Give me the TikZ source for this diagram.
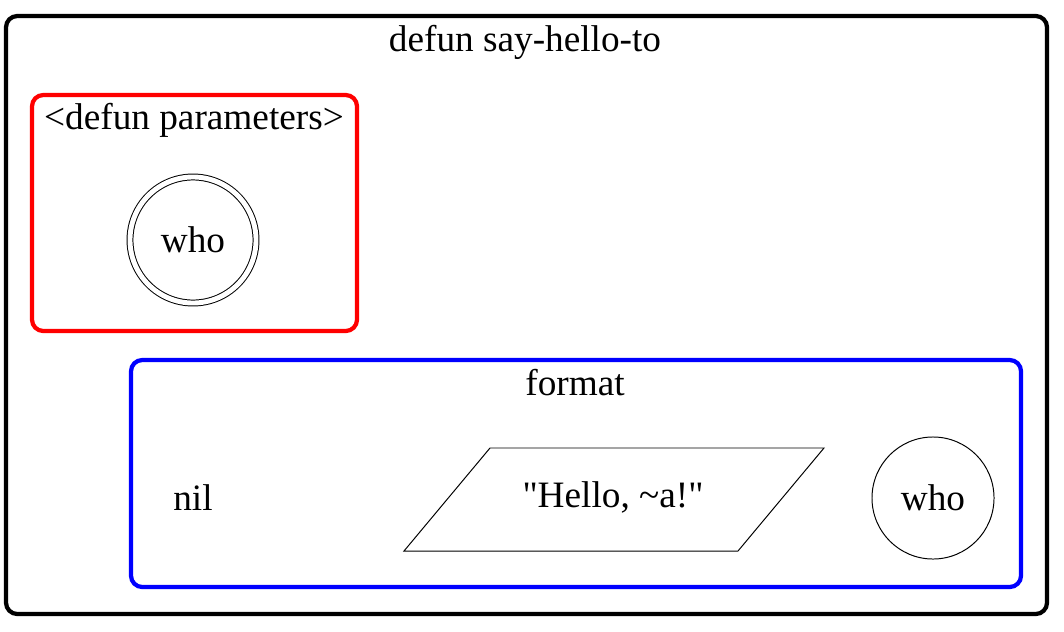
\documentclass[tikz,border=0pt]{standalone}
\usepackage{fontspec}
\setmainfont[Ligatures=TeXOff]{Liberation Serif}

\begin{document}
\begin{tikzpicture}[x=0.025cm,y=-0.025cm,font=\fontsize{26.5}{30}\selectfont]
    \tikzstyle{cluster}=[line width=3pt,rounded corners=8pt]
    \tikzstyle{thin}=[draw=black,line width=0.7pt,inner sep=0pt]
    \useasboundingbox (0,0) rectangle (1064,631);

    % clusters
    \draw[cluster,black] (6,16) rectangle (1047,614);
    \node (T-main) at (525,42) {defun say-hello-to};
    \draw[cluster,red] (32,95) rectangle (357,331);
    \node (T-params) at (194,120) {<defun parameters>};
    \draw[cluster,blue] (131,360) rectangle (1021,587);
    \node (T-format) at (575,383) {format};

    % nodes
    \node[thin,circle,double,double distance=3.5pt,minimum size=3.15cm] (who-1) at (193,240) {who};
    \node (nil) at (193,498) {nil};
    \node (str) at (613,497) {"Hello, \char126 a!"};
    \draw[line width=0.7pt] (404,551) -- (490,448) -- (824,448) -- (738,551) -- cycle;
    \node[thin,circle,minimum size=3.05cm] (who-2) at (933,498) {who};
\end{tikzpicture}
\end{document}
